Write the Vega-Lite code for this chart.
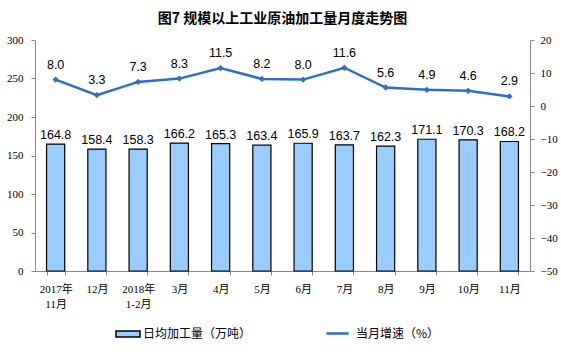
{
  "$schema": "https://vega.github.io/schema/vega-lite/v6.json",
  "width": 495,
  "height": 231,
  "autosize": {"type": "none"},
  "padding": {"left": 35, "top": 40, "right": 31, "bottom": 86},
  "background": "white",
  "title": {
    "text": "图7  规模以上工业原油加工量月度走势图",
    "font": "Noto Sans CJK SC",
    "fontSize": 14,
    "fontWeight": "bold",
    "color": "#000000",
    "offset": 8,
    "anchor": "middle"
  },
  "config": {
    "view": {"stroke": null},
    "axis": {
      "grid": false,
      "domainColor": "#888888",
      "tickColor": "#888888",
      "labelColor": "#000000",
      "labelFont": "Liberation Serif",
      "labelFontSize": 11
    }
  },
  "data": {
    "values": [
      {"m": "2017年|11月", "v": 164.8, "g": 8.0},
      {"m": "12月", "v": 158.4, "g": 3.3},
      {"m": "2018年|1-2月", "v": 158.3, "g": 7.3},
      {"m": "3月", "v": 166.2, "g": 8.3},
      {"m": "4月", "v": 165.3, "g": 11.5},
      {"m": "5月", "v": 163.4, "g": 8.2},
      {"m": "6月", "v": 165.9, "g": 8.0},
      {"m": "7月", "v": 163.7, "g": 11.6},
      {"m": "8月", "v": 162.3, "g": 5.6},
      {"m": "9月", "v": 171.1, "g": 4.9},
      {"m": "10月", "v": 170.3, "g": 4.6},
      {"m": "11月", "v": 168.2, "g": 2.9}
    ]
  },
  "encoding": {
    "x": {
      "field": "m",
      "type": "nominal",
      "sort": null,
      "scale": {"paddingInner": 0.56, "paddingOuter": 0.28},
      "axis": {
        "title": null,
        "labelAngle": 0,
        "labelFont": "Liberation Serif, Noto Sans CJK SC",
        "labelExpr": "split(datum.label, '|')",
        "labelLineHeight": 15,
        "labelPadding": 8,
        "tickBand": "extent",
        "tickSize": 4,
        "labelBaseline": "top"
      }
    }
  },
  "layer": [
    {
      "encoding": {
        "y": {
          "field": "v",
          "type": "quantitative",
          "scale": {"domain": [0, 300], "nice": false},
          "axis": {"orient": "left", "values": [0, 50, 100, 150, 200, 250, 300], "labelOverlap": false, "title": null, "tickSize": 4, "labelPadding": 8}
        }
      },
      "layer": [
        {
          "mark": {"type": "bar", "stroke": "#000000", "strokeWidth": 1.2},
          "encoding": {
            "fill": {
              "datum": "日均加工量（万吨）",
              "scale": {"range": ["#99CCFF"]},
              "legend": {
                "orient": "none",
                "legendX": 80,
                "legendY": 281,
                "title": null,
                "symbolType": "M-1,-0.25H1V0.25H-1Z",
                "symbolSize": 576,
                "symbolStrokeColor": "#000000",
                "symbolStrokeWidth": 1.5,
                "labelFont": "Noto Sans CJK SC",
                "labelFontSize": 12,
                "labelColor": "#000000",
                "labelOffset": 2
              }
            }
          }
        },
        {
          "mark": {"type": "text", "dy": -9, "font": "Liberation Sans", "fontSize": 12.5, "color": "#000000"},
          "encoding": {
            "text": {"field": "v", "type": "quantitative", "format": ".1f"}
          }
        }
      ]
    },
    {
      "encoding": {
        "y": {
          "field": "g",
          "type": "quantitative",
          "scale": {"domain": [-50, 20], "nice": false},
          "axis": {"orient": "right", "values": [-50, -40, -30, -20, -10, 0, 10, 20], "labelOverlap": false, "title": null, "tickSize": 4, "labelPadding": 6}
        }
      },
      "layer": [
        {
          "mark": {"type": "line", "strokeWidth": 2.5},
          "encoding": {
            "stroke": {
              "datum": "当月增速（%）",
              "scale": {"range": ["#2E6FC4"]},
              "legend": {
                "orient": "none",
                "legendX": 290,
                "legendY": 281,
                "title": null,
                "symbolType": "stroke",
                "symbolSize": 500,
                "symbolStrokeWidth": 2.5,
                "labelFont": "Noto Sans CJK SC",
                "labelFontSize": 12,
                "labelColor": "#000000",
                "labelOffset": 6
              }
            }
          }
        },
        {
          "mark": {"type": "point", "shape": "diamond", "filled": true, "size": 40, "color": "#2E6FC4", "opacity": 1},
          "encoding": {}
        },
        {
          "mark": {"type": "text", "dy": -15, "font": "Liberation Sans", "fontSize": 12.5, "color": "#000000"},
          "encoding": {
            "text": {"field": "g", "type": "quantitative", "format": ".1f"}
          }
        }
      ]
    }
  ],
  "resolve": {"scale": {"y": "independent", "fill": "independent", "stroke": "independent"}}
}
